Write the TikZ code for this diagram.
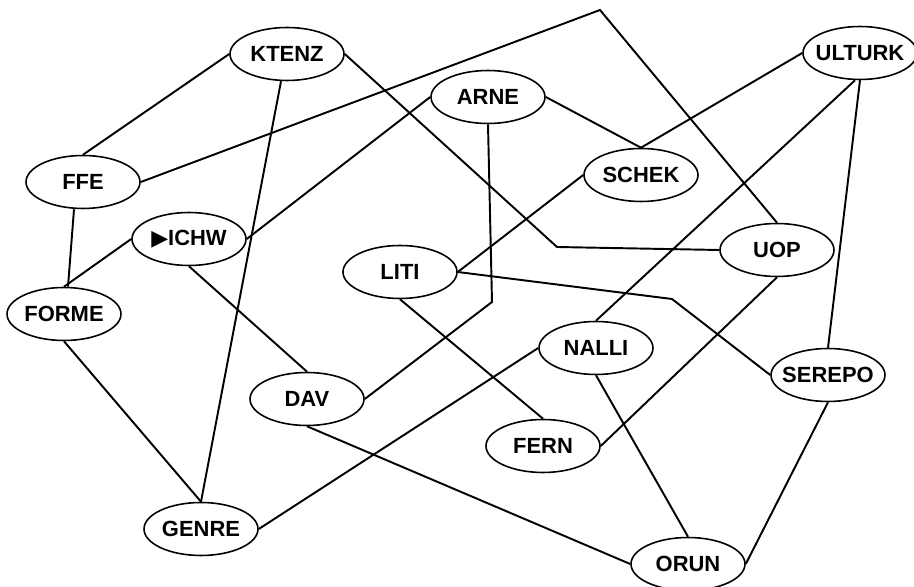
\documentclass[tikz,border=0pt]{standalone}
\usepackage{fontspec}
\setmainfont{Liberation Sans}
\newfontfamily\symfont{DejaVu Sans}
\usepackage{tikz}
\usetikzlibrary{shapes.geometric}

\tikzset{
  word/.style={ellipse, draw, line width=0.9pt, inner xsep=-4pt, inner ysep=0pt,
    minimum width=2.28cm, minimum height=1.06cm,
    font=\fontsize{12.5}{14}\selectfont\bfseries},
  link/.style={line width=1.1pt, line join=miter}
}

\begin{document}
\begin{tikzpicture}[x=0.02cm, y=-0.02cm]
    \useasboundingbox (0,0) rectangle (914,587);
    \node[word] (ktenz) at (287,54) {KTENZ};
    \node[word] (arne) at (488,97) {ARNE};
    \node[word] (ulturk) at (860,53) {ULTURK};
    \node[word] (ffe) at (83,182) {FFE};
    \node[word] (schek) at (641,175) {SCHEK};
    \node[word] (ichw) at (189,239) {{\symfont ▶}ICHW};
    \node[word] (uop) at (777,250) {UOP};
    \node[word] (liti) at (400,272) {LITI};
    \node[word] (forme) at (64,314) {FORME};
    \node[word] (nalli) at (596,348) {NALLI};
    \node[word] (serepo) at (828,375) {SEREPO};
    \node[word] (dav) at (307,399) {DAV};
    \node[word] (fern) at (543,446) {FERN};
    \node[word] (genre) at (201,529) {GENRE};
    \node[word] (orun) at (688,564) {ORUN};
    \coordinate (peak) at (600,10);
    \coordinate (kbend) at (557,247);
    \coordinate (abend) at (492,302);
    \coordinate (lbend) at (672,299);
    \draw[link] (ktenz.west) -- (ffe.north);
    \draw[link] (ktenz.south) ++(-6,0) -- (genre.north);
    \draw[link] (ktenz.east) -- (kbend) -- (uop.west);
    \draw[link] (ffe.east) -- (peak) -- (uop.north);
    \draw[link] ([xshift=-0.18cm]ffe.south) -- ([xshift=0.08cm]forme.north);
    \draw[link] (ichw.west) -- (forme.north);
    \draw[link] (ichw.east) -- (arne.west);
    \draw[link] (ichw.south) -- (dav.north);
    \draw[link] (arne.east) -- (schek.north);
    \draw[link] (arne.south) -- (abend) -- (dav.east);
    \draw[link] (schek.north) -- (ulturk.west);
    \draw[link] (schek.west) -- (liti.east);
    \draw[link] (ulturk.south) ++(-5,0) -- (nalli.north);
    \draw[link] (ulturk.south) -- (serepo.north);
    \draw[link] (liti.east) -- (lbend) -- (serepo.west);
    \draw[link] (liti.south) -- (fern.north);
    \draw[link] (uop.south) -- (fern.east);
    \draw[link] (nalli.west) -- (genre.east);
    \draw[link] (nalli.south) -- (orun.north);
    \draw[link] (dav.south) -- (orun.west);
    \draw[link] (serepo.south) -- (orun.east);
    \draw[link] (forme.south) -- (genre.north);
  \end{tikzpicture}
\end{document}
